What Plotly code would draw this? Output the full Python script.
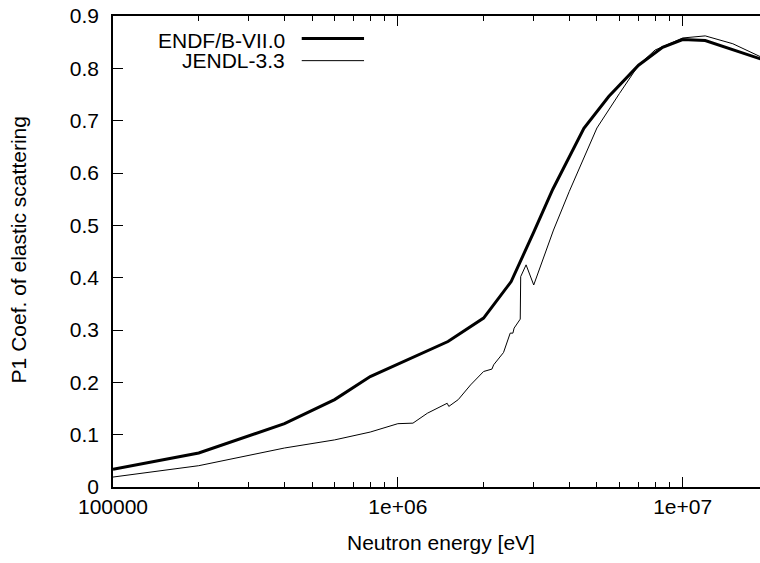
import numpy as np
import plotly.graph_objects as go

# P1 Legendre coefficient of elastic scattering vs. neutron energy
endf_energy = [1e5, 2e5, 4e5, 6e5, 8e5, 1.5e6, 2e6, 2.5e6, 3e6, 3.5e6,
               4.5e6, 5.5e6, 7e6, 8.5e6, 1e7, 1.2e7, 2e7]
endf_p1 = [0.034, 0.065, 0.121, 0.167, 0.211, 0.278, 0.3227, 0.3926, 0.487, 0.569,
           0.6855, 0.746, 0.806, 0.840, 0.855, 0.853, 0.813]

jendl_energy = [1e5, 2e5, 4e5, 6e5, 8e5, 1e6, 1.13e6, 1.27e6, 1.49e6, 1.51e6,
                1.63e6, 1.8e6, 2.0e6, 2.14e6, 2.17e6, 2.35e6, 2.48e6, 2.535e6,
                2.56e6, 2.69e6, 2.7e6, 2.82e6, 3.0e6, 3.52e6, 4e6, 5e6, 6e6,
                7e6, 8e6, 1e7, 1.2e7, 1.5e7, 2e7]
jendl_p1 = [0.019, 0.0407, 0.0745, 0.090, 0.105, 0.121, 0.122, 0.141, 0.160, 0.154,
            0.167, 0.195, 0.2207, 0.2253, 0.2335, 0.257, 0.294, 0.294,
            0.3036, 0.3208, 0.402, 0.4245, 0.386, 0.491, 0.565, 0.686, 0.752,
            0.806, 0.835, 0.858, 0.862, 0.847, 0.815]

series_names = ["ENDF/B-VII.0", "JENDL-3.3"]
series_widths = [3, 1]

x_major = [1e5, 1e6, 1e7]
x_major_text = ["100000", "1e+06", "1e+07"]
x_minor = [k * 10.0 ** d for d in (5, 6, 7) for k in range(2, 10)]

FONT = "Liberation Sans, Arial, Helvetica, sans-serif"
FS = 21

fig = go.Figure()
for name, xs, ys, w in zip(series_names, [endf_energy, jendl_energy],
                           [endf_p1, jendl_p1], series_widths):
    fig.add_trace(go.Scatter(x=xs, y=ys, mode="lines", name=name,
                             line=dict(color="black", width=w),
                             showlegend=False))

# key: right-aligned labels with line samples to their right
key_y_text = [0.949, 0.9045]
key_y_line = [0.9523, 0.9052]
for name, w, yt, yl in zip(series_names, series_widths, key_y_text, key_y_line):
    fig.add_annotation(text=name, xref="paper", yref="paper", x=0.2685, y=yt,
                       xanchor="right", yanchor="middle", showarrow=False,
                       font=dict(family=FONT, size=FS, color="black"))
    fig.add_shape(type="line", xref="paper", yref="paper", x0=0.2917, x1=0.388,
                  y0=yl, y1=yl, line=dict(color="black", width=w))

fig.add_annotation(text="Neutron energy [eV]", xref="paper", yref="paper",
                   x=0.507, y=-0.1185, xanchor="center", yanchor="middle",
                   showarrow=False, font=dict(family=FONT, size=FS, color="black"))
fig.add_annotation(text="P1 Coef. of elastic scattering", xref="paper", yref="paper",
                   x=-0.146, y=0.5035, xanchor="center", yanchor="middle",
                   textangle=-90, showarrow=False,
                   font=dict(family=FONT, size=FS, color="black"))

fig.update_layout(
    width=760, height=563,
    margin=dict(l=113, r=0, t=16, b=76),
    paper_bgcolor="white", plot_bgcolor="white",
    font=dict(family=FONT, size=FS, color="black"),
    xaxis=dict(type="log", range=[5, 7.2715], showgrid=False, zeroline=False,
               showline=True, linecolor="black", linewidth=1.5, mirror="ticks",
               ticks="inside", ticklen=10, tickwidth=1.2, tickcolor="black",
               tickvals=x_major, ticktext=x_major_text,
               tickfont=dict(family=FONT, size=FS),
               minor=dict(tickvals=x_minor, ticks="inside", ticklen=5,
                          tickwidth=1, tickcolor="black", showgrid=False)),
    yaxis=dict(range=[0, 0.9], dtick=0.1, showgrid=False, zeroline=False,
               showline=True, linecolor="black", linewidth=1.5,
               ticks="inside", ticklen=10, tickwidth=1.2, tickcolor="black",
               ticklabelstandoff=8, tickfont=dict(family=FONT, size=FS)),
    yaxis2=dict(overlaying="y", side="right", anchor="x", range=[0, 0.9],
                dtick=0.1, showgrid=False, zeroline=False, showline=False,
                ticks="inside", ticklen=3, tickwidth=1.2, tickcolor="black",
                showticklabels=False),
)

fig.write_html("out.html")
